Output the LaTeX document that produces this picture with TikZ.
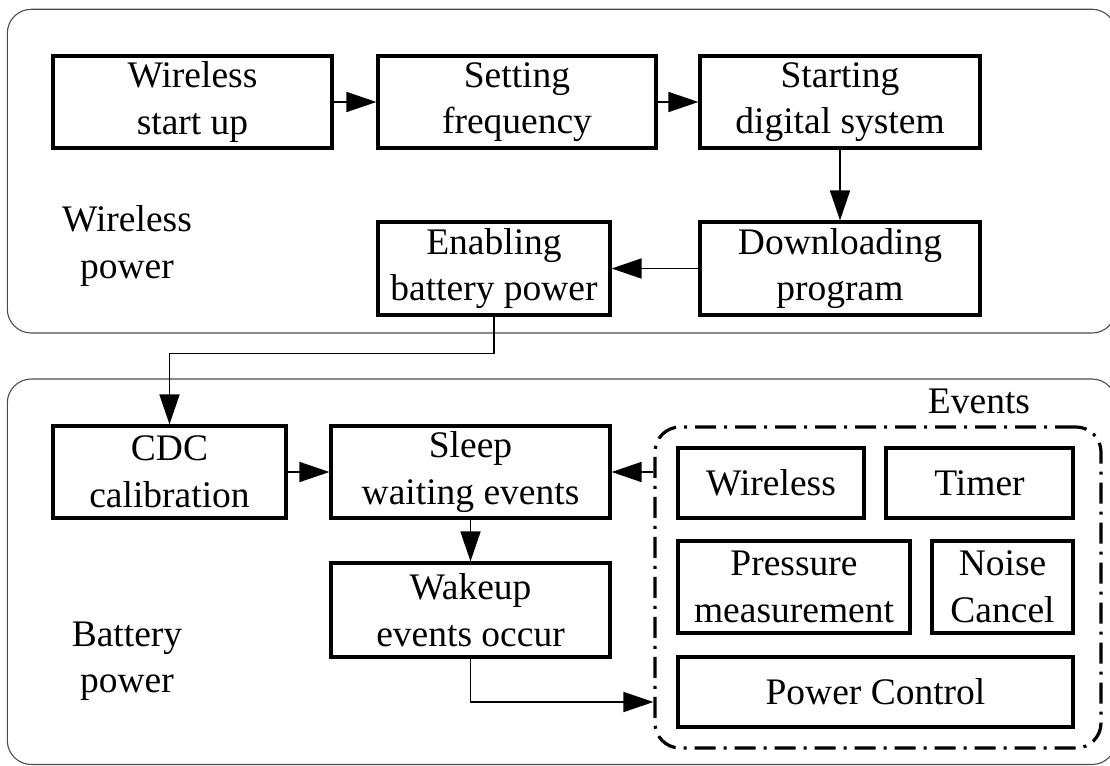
\documentclass[tikz,border=0pt]{standalone}
\usepackage{fontspec}
\setmainfont{Liberation Serif}
\usetikzlibrary{arrows.meta}
\begin{document}
\begin{tikzpicture}[x=1pt,y=-1pt,
  font=\fontsize{37.5}{46.5}\selectfont,
  stage/.style={draw, line width=3.2pt, inner sep=0pt, align=center},
  flow/.style={line width=1.7pt, -{Triangle[length=30pt,width=20pt]}},
  panel/.style={draw=black!70, line width=1.1pt, rounded corners=24pt},
  group/.style={draw, line width=3.2pt, rounded corners=25pt, inner sep=0pt,
    dash pattern=on 21pt off 8pt on 3pt off 8pt},
  caption/.style={inner sep=0pt, align=center}]
\useasboundingbox (0,0) rectangle (1110,765);

% the two power domains
\draw[panel] (7.3,9.3) rectangle (1116,333);
\draw[panel] (7.3,379) rectangle (1116,764.5);

\node[caption] (wpw) at (127,246) {Wireless\\power};
\node[caption] (bpw) at (127,661) {Battery\\power};

% wireless power stages
\node[stage, minimum width=279pt, minimum height=92pt] (ws)  at (192.5,102) {Wireless\\start up};
\node[stage, minimum width=278pt, minimum height=92pt] (sf)  at (517,102)   {Setting\\frequency};
\node[stage, minimum width=280pt, minimum height=92pt] (sd)  at (840,102)   {Starting\\digital system};
\node[stage, minimum width=280pt, minimum height=93pt] (dp)  at (840,268.5) {Downloading\\program};
\node[stage, minimum width=232pt, minimum height=93pt] (eb)  at (494,268.5) {Enabling\\battery power};

% battery power stages
\node[stage, minimum width=233pt, minimum height=92pt] (cdc) at (169.5,472) {CDC\\calibration};
\node[stage, minimum width=279pt, minimum height=92pt] (sl)  at (470.5,472) {Sleep\\waiting events};
\node[stage, minimum width=279pt, minimum height=94pt] (wk)  at (470.5,610) {Wakeup\\events occur};

% event sources
\node[group, minimum width=446pt, minimum height=321pt] (ev) at (878,587.5) {};
\node[caption, anchor=base] (evt) at (979,413) {Events};
\node[stage, minimum width=186pt, minimum height=70pt] (w2) at (771,483)    {Wireless};
\node[stage, minimum width=187pt, minimum height=70pt] (tm) at (979.5,483)  {Timer};
\node[stage, minimum width=232pt, minimum height=92pt] (pm) at (794,587)    {Pressure\\measurement};
\node[stage, minimum width=141pt, minimum height=92pt] (nc) at (1002.5,587) {Noise\\Cancel};
\node[stage, minimum width=395pt, minimum height=70pt] (pc) at (875.5,692)  {Power Control};

\coordinate (evout) at (ev.west |- sl.east);
\coordinate (evin)  at (ev.west |- 0,702);

% flow
\draw[flow] (ws) -- (sf);
\draw[flow] (sf) -- (sd);
\draw[flow] (sd) -- (dp);
\draw[flow] (dp) -- (eb);
\draw[flow] (eb.south) -- ++(0,37) -| (cdc.north);
\draw[flow] (cdc) -- (sl);
\draw[flow] (sl) -- (wk);
\draw[flow] (evout) -- (sl.east);
\draw[flow] (wk.south) |- (evin);
\end{tikzpicture}
\end{document}
